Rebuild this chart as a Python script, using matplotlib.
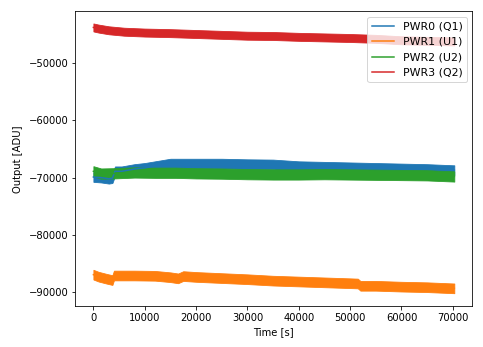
import matplotlib
matplotlib.use("Agg")
import matplotlib.pyplot as plt
import numpy as np

# sample times [s] and band centre [ADU] for each power channel
t_pwr0 = [0, 1500, 3000, 3700, 4200, 5500, 8000, 10000, 12000, 15000, 20000,
          25000, 30000, 35000, 40000, 45000, 50000, 55000, 60000, 65000, 70300]
pwr0 = [-69900, -70000, -70200, -70100, -68900, -68900, -68500, -68300, -68000,
        -67550, -67550, -67550, -67650, -67700, -68000, -68100, -68200, -68300,
        -68400, -68500, -68700]

t_pwr1 = [0, 1000, 2500, 3700, 4000, 8000, 12000, 15000, 16500, 17500, 20000,
          25000, 30000, 35000, 40000, 45000, 50000, 51500, 52000, 55000, 60000,
          65000, 70300]
pwr1 = [-87000, -87350, -87700, -87950, -87150, -87150, -87200, -87450, -87650,
        -87250, -87400, -87600, -87800, -88050, -88200, -88350, -88500, -88550,
        -88950, -88950, -89100, -89200, -89400]

t_pwr2 = [0, 1500, 4000, 8000, 12000, 16000, 20000, 25000, 30000, 35000, 40000,
          45000, 50000, 55000, 60000, 65000, 70300]
pwr2 = [-68900, -69300, -69250, -69100, -69150, -69150, -69250, -69300, -69400,
        -69450, -69450, -69400, -69450, -69500, -69550, -69600, -69800]

t_pwr3 = [0, 1000, 3000, 6000, 10000, 15000, 20000, 25000, 30000, 35000, 40000,
          45000, 50000, 55000, 60000, 65000, 70300]
pwr3 = [-43700, -43900, -44200, -44450, -44600, -44700, -44850, -45000, -45150,
        -45200, -45350, -45450, -45550, -45700, -45950, -46050, -46150]

# half height of the noise band around each centre
spread = [850, 850, 900, 700]

labels = ["PWR0 (Q1)", "PWR1 (U1)", "PWR2 (U2)", "PWR3 (Q2)"]
colors = ["tab:blue", "tab:orange", "tab:green", "tab:red"]

fig = plt.figure(figsize=(483 / 72, 347 / 72), dpi=72)
ax = fig.add_subplot(111)
fig.subplots_adjust(left=0.156, right=0.978, bottom=0.118, top=0.967)

series = [(t_pwr0, pwr0), (t_pwr1, pwr1), (t_pwr2, pwr2), (t_pwr3, pwr3)]
for (t, v), hw, lab, c in zip(series, spread, labels, colors):
    t = np.array(t)
    v = np.array(v)
    ax.fill_between(t, v - hw, v + hw, color=c, linewidth=0.8, edgecolor=c)
    ax.plot(t, v, color=c, lw=1.5, label=lab)

ax.set_xlim(-3515, 73815)
ax.set_ylim(-92500, -40900)
ax.set_xlabel("Time [s]")
ax.set_ylabel("Output [ADU]", labelpad=6)
ax.legend(loc="upper right", fontsize=11)

fig.savefig("out.png", dpi=72)
